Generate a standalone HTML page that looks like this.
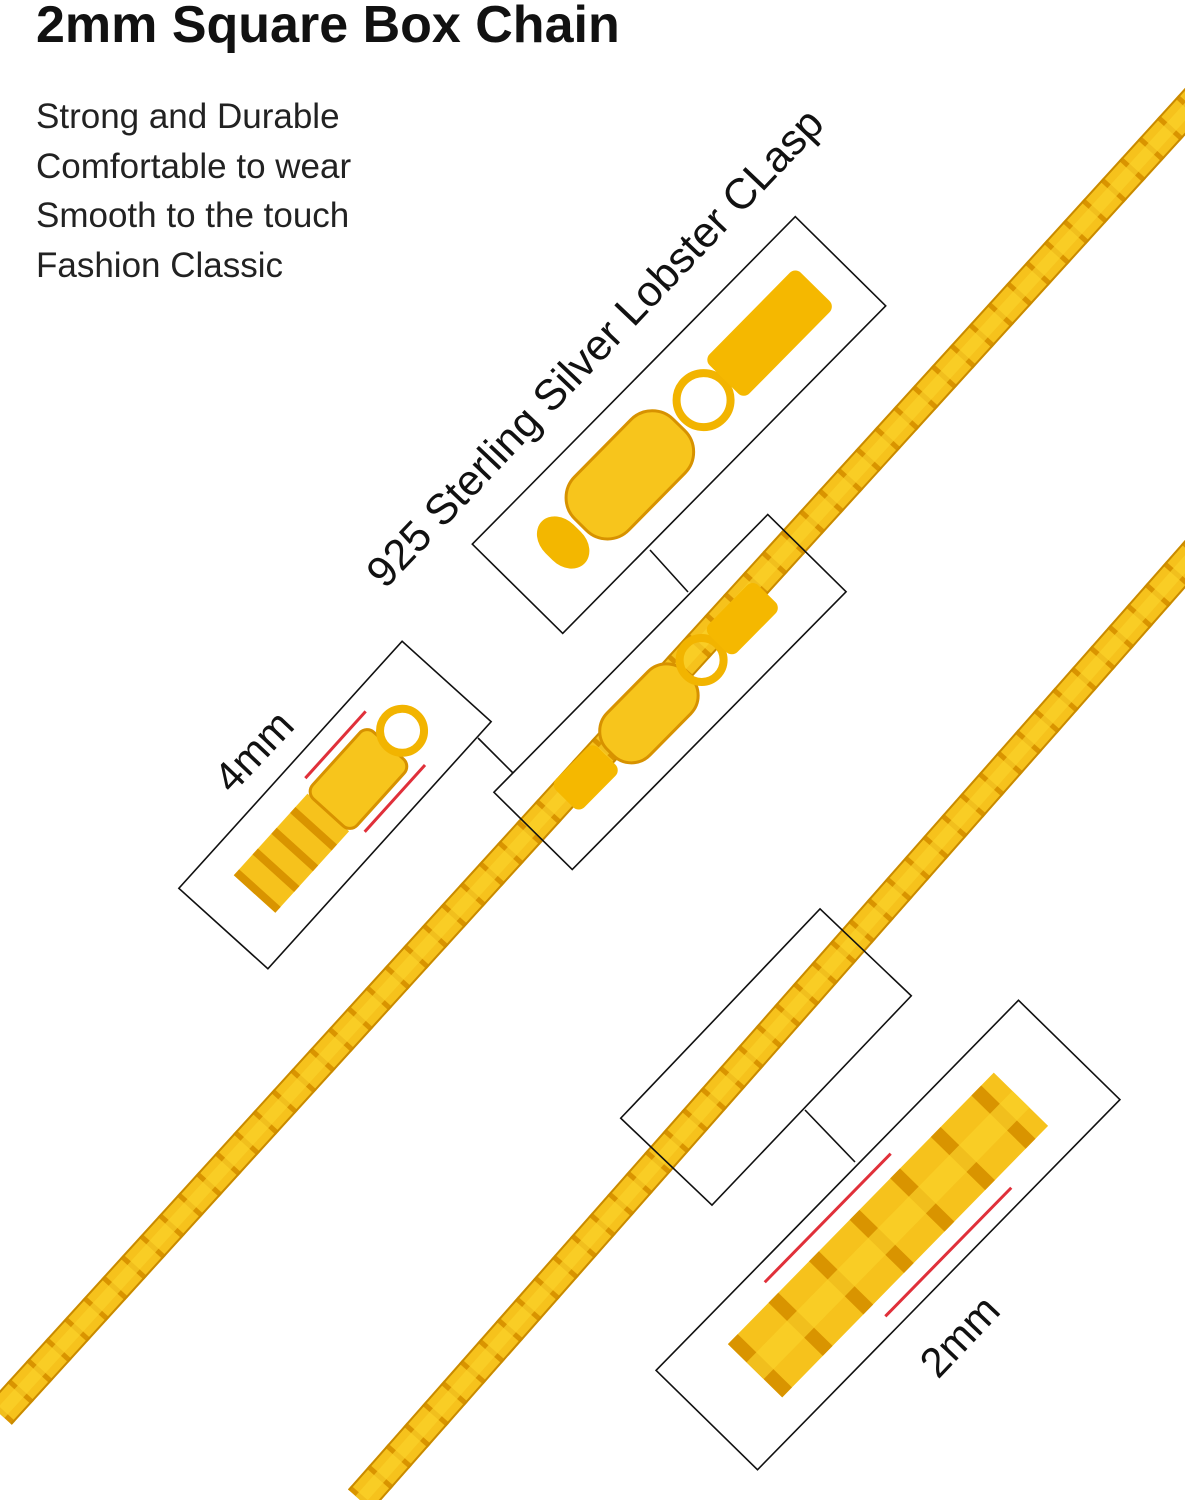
<!DOCTYPE html>
<html><head><meta charset="utf-8"><style>
html,body{margin:0;padding:0;background:#fff;}
body{width:1185px;height:1500px;overflow:hidden;position:relative;font-family:"Liberation Sans",sans-serif;}
</style></head><body>
<svg width="1185" height="1500" viewBox="0 0 1185 1500" xmlns="http://www.w3.org/2000/svg" style="position:absolute;left:0;top:0">
<defs>
<g id="chainseg">
  <rect x="0" y="-16" width="2400" height="32" fill="#f6c21c"/>
  <line x1="0" y1="0" x2="2400" y2="0" stroke="#d99400" stroke-width="32" stroke-dasharray="5 23"/>
  <rect x="0" y="-6" width="2400" height="12" fill="#fbd22a" opacity="0.7"/>
  <line x1="0" y1="-15" x2="2400" y2="-15" stroke="#c98a00" stroke-width="2"/>
  <line x1="0" y1="15" x2="2400" y2="15" stroke="#c98a00" stroke-width="2"/>
</g>
</defs>
<g transform="translate(0,1414) rotate(-47.7)"><use href="#chainseg"/></g>
<g transform="translate(360,1500) rotate(-48.6)"><use href="#chainseg"/></g>
<!-- clasp on chain 1 -->
<g transform="translate(670,692) rotate(-45.4)">
  <rect x="-150" y="-20" width="60" height="40" rx="8" fill="#f5b800"/>
  <rect x="-85" y="-30" width="110" height="60" rx="26" fill="#f7c51c" stroke="#d79200" stroke-width="3"/>
  <circle cx="45" cy="0" r="22" fill="none" stroke="#f2b400" stroke-width="8"/>
  <rect x="68" y="-20" width="70" height="40" rx="8" fill="#f5b800"/>
</g>
<!-- clasp in box1 -->
<g transform="translate(679,425) rotate(-45.4)">
  <rect x="-185" y="-30" width="40" height="60" rx="25" fill="#f3b700"/>
  <rect x="-140" y="-38" width="140" height="76" rx="30" fill="#f7c51c" stroke="#d79200" stroke-width="3"/>
  <circle cx="35" cy="0" r="27" fill="none" stroke="#f2b400" stroke-width="8"/>
  <rect x="64" y="-28" width="130" height="56" rx="8" fill="#f5b800"/>
</g>
<!-- box3 content -->
<g transform="translate(335,805) rotate(-47.9)">
  <rect x="-120" y="-28" width="110" height="56" fill="#f6c21c"/>
  <line x1="-120" y1="0" x2="-10" y2="0" stroke="#d99400" stroke-width="56" stroke-dasharray="8 20"/>
  <rect x="-10" y="-30" width="90" height="60" rx="10" fill="#f7c51c" stroke="#d79200" stroke-width="3"/>
  <circle cx="100" cy="0" r="22" fill="none" stroke="#f2b400" stroke-width="8"/>
  <line x1="0" y1="-40" x2="90" y2="-40" stroke="#e0303a" stroke-width="3"/>
  <line x1="0" y1="40" x2="90" y2="40" stroke="#e0303a" stroke-width="3"/>
</g>
<!-- box5 content -->
<g transform="translate(888,1235) rotate(-45.6)">
  <rect x="-190" y="-38" width="380" height="76" fill="#f6c21c"/>
  <line x1="-190" y1="0" x2="190" y2="0" stroke="#d99400" stroke-width="76" stroke-dasharray="14 44"/>
  <rect x="-190" y="-12" width="380" height="24" fill="#fbd22a" opacity="0.7"/>
  <line x1="-120" y1="-55" x2="60" y2="-55" stroke="#e0303a" stroke-width="3"/>
  <line x1="-60" y1="55" x2="120" y2="55" stroke="#e0303a" stroke-width="3"/>
</g>
<g fill="none" stroke="#111" stroke-width="1.6">
  <rect x="-230" y="-63.5" width="460" height="127" transform="translate(679,425) rotate(-45.4)"/>
  <rect x="-195" y="-55" width="390" height="110" transform="translate(670,692) rotate(-45.4)"/>
  <rect x="-166.5" y="-60" width="333" height="120" transform="translate(335,805) rotate(-47.9)"/>
  <rect x="-144.5" y="-63" width="289" height="126" transform="translate(766,1057) rotate(-46.4)"/>
  <rect x="-259" y="-71" width="518" height="142" transform="translate(888,1235) rotate(-45.6)"/>
  <line x1="650" y1="550" x2="688" y2="592"/>
  <line x1="478" y1="738" x2="513" y2="773"/>
  <line x1="805" y1="1110" x2="855" y2="1162"/>
</g>
<text transform="translate(385,590) rotate(-46.5)" font-family="Liberation Sans, sans-serif" font-size="43" fill="#111">925 Sterling Silver Lobster CLasp</text>
<text transform="translate(232,795) rotate(-46.5)" font-family="Liberation Sans, sans-serif" font-size="42" fill="#111">4mm</text>
<text transform="translate(938,1380) rotate(-46.5)" font-family="Liberation Sans, sans-serif" font-size="42" fill="#111">2mm</text>
<text x="36" y="42" font-family="Liberation Sans, sans-serif" font-size="52" font-weight="bold" fill="#111">2mm Square Box Chain</text>
<g font-family="Liberation Sans, sans-serif" font-size="35" fill="#222">
  <text x="36" y="128">Strong and Durable</text>
  <text x="36" y="178">Comfortable to wear</text>
  <text x="36" y="227">Smooth to the touch</text>
  <text x="36" y="277">Fashion Classic</text>
</g>
</svg>
</body></html>
